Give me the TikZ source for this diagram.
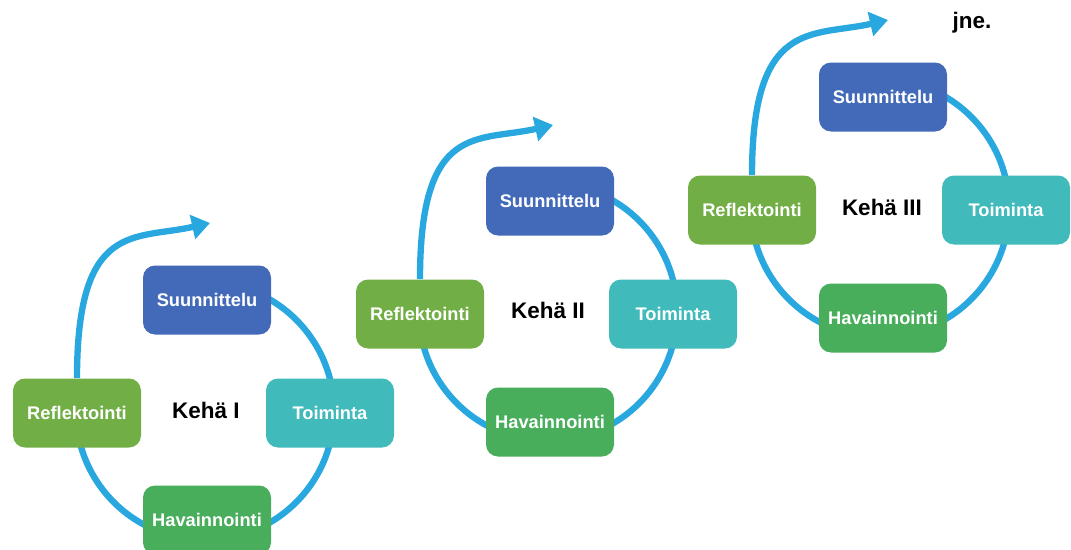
\documentclass[tikz,border=0pt]{standalone}
\usepackage{fontspec}
\setmainfont{Liberation Sans}
\usepackage{xcolor}
\usepackage{tikz}
\usetikzlibrary{
    arrows.meta,
    positioning,
    backgrounds
}
\definecolor{suuncol}{RGB}{66,106,184}
\definecolor{toimcol}{RGB}{64,186,186}
\definecolor{reflcol}{RGB}{114,174,70}
\definecolor{havcol}{RGB}{72,174,92}
\definecolor{ringblue}{RGB}{41,168,224}

\begin{document}
\begin{tikzpicture}[
            box/.style={rounded corners=0.3cm, minimum width=3.2cm, minimum height=1.725cm, inner sep=0pt,
                        text=white, font=\fontsize{13}{15}\selectfont\bfseries},
            plan/.style={box, fill=suuncol},
            act/.style={box, fill=toimcol},
            obs/.style={box, fill=havcol},
            refl/.style={box, fill=reflcol},
            title/.style={font=\fontsize{16}{19}\selectfont\bfseries, text=black},
            ring/.style={draw=ringblue, line width=4.5pt},
            sweep/.style={ring, -{Triangle[length=0.45cm, width=0.6cm]}}
        ]
            \useasboundingbox (0,0) rectangle (26.775,13.725);

            % ====== Kehä I ======
            \coordinate (c1) at (5.125, 3.45);
            \coordinate (tip1) at (5.25, 8.15);
            \node[plan] (suun1) at (5.175, 6.225) {Suunnittelu};
            \node[act] (toim1) at (8.25, 3.4) {Toiminta};
            \node[obs] (hav1) at (5.175, 0.725) {Havainnointi};
            \node[refl] (refl1) at (1.925, 3.4) {Reflektointi};
            \node[title] (keha1) at (5.15, 3.475) {Kehä I};

            % ====== Kehä II ======
            \coordinate (c2) at (13.7, 5.925);
            \coordinate (tip2) at (13.825, 10.6);
            \node[plan] (suun2) at (13.75, 8.7) {Suunnittelu};
            \node[act] (toim2) at (16.825, 5.875) {Toiminta};
            \node[obs] (hav2) at (13.75, 3.175) {Havainnointi};
            \node[refl] (refl2) at (10.5, 5.875) {Reflektointi};
            \node[title] (keha2) at (13.7, 5.975) {Kehä II};

            % ====== Kehä III ======
            \coordinate (c3) at (22.0, 8.525);
            \coordinate (tip3) at (22.2, 13.225);
            \node[plan] (suun3) at (22.075, 11.3) {Suunnittelu};
            \node[act] (toim3) at (25.15, 8.475) {Toiminta};
            \node[obs] (hav3) at (22.075, 5.775) {Havainnointi};
            \node[refl] (refl3) at (18.8, 8.475) {Reflektointi};
            \node[title] (keha3) at (22.05, 8.55) {Kehä III};

            \node[title] (jne) at (24.3, 13.15) {jne.};

            % ====== rings behind the boxes (top-left quarter is the sweep) ======
            \begin{scope}[on background layer]
                \draw[ring] (c1) ++(90:3.225) arc[start angle=90, end angle=-180, radius=3.225];
                \draw[ring] (c2) ++(90:3.225) arc[start angle=90, end angle=-180, radius=3.225];
                \draw[ring] (c3) ++(90:3.225) arc[start angle=90, end angle=-180, radius=3.225];
            \end{scope}

            \draw[sweep] (refl1.north) .. controls +(0,3.95) and +(-1.875,-0.425) .. (tip1);
            \draw[sweep] (refl2.north) .. controls +(0,3.95) and +(-1.875,-0.425) .. (tip2);
            \draw[sweep] (refl3.north) .. controls +(0,3.95) and +(-1.875,-0.425) .. (tip3);
        \end{tikzpicture}
\end{document}
